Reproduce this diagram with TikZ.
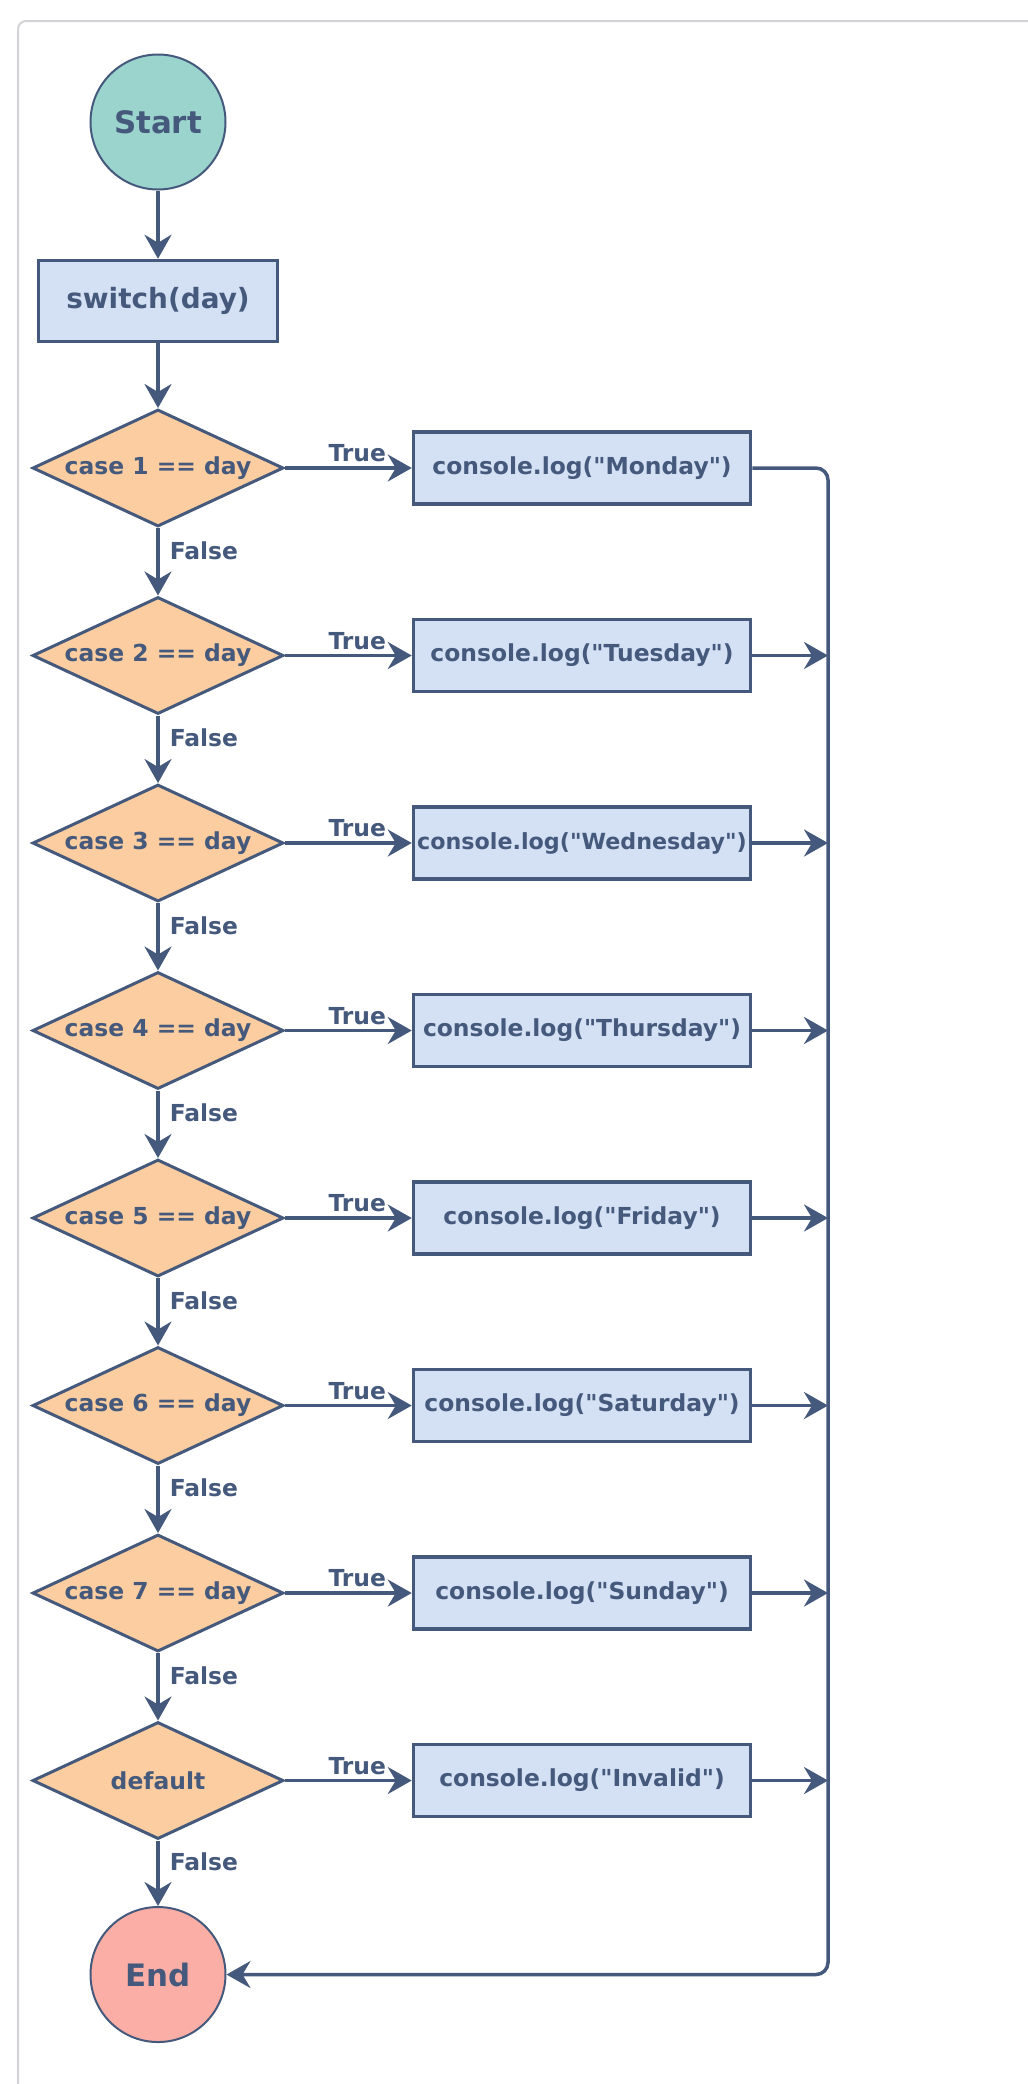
\documentclass[tikz,border=0pt]{standalone}
\usepackage{fontspec}
\setmainfont{DejaVu Sans}[Ligatures=TeXOff]
\usepackage{xcolor}
\usepackage{tikz}
\usetikzlibrary{positioning, shapes.geometric, arrows.meta, calc}

\definecolor{ink}{HTML}{45597C}
\definecolor{startfill}{HTML}{9BD3CD}
\definecolor{endfill}{HTML}{FAAEA6}
\definecolor{casefill}{HTML}{FBCDA0}
\definecolor{boxfill}{HTML}{D4E1F4}
\definecolor{framegray}{HTML}{D3D3D7}

\begin{document}
\begin{tikzpicture}[x=1bp, y=-1bp, node distance=187.5bp,
  every node/.style={text=ink, font=\bfseries\fontsize{23.5}{28}\selectfont},
  terminal/.style={circle, draw=ink, line width=2bp, minimum size=135bp, inner sep=0pt, font=\bfseries\fontsize{31}{37}\selectfont},
  decision/.style={diamond, draw=ink, fill=casefill, line width=3bp, aspect=2.15, minimum width=251bp, minimum height=117bp, inner sep=0pt},
  process/.style={rectangle, draw=ink, fill=boxfill, line width=3.5bp, minimum width=337bp, minimum height=72bp, inner sep=1bp},
  flow/.style={draw=ink, line width=3.5bp, -{Stealth[length=24bp, width=27bp, inset=8bp]}},
  yes/.style={above, pos=0.57, inner sep=4bp},
  no/.style={right, pos=0.33, inner sep=2bp, xshift=8bp}]
  \useasboundingbox (0,0) rectangle (1028,2084);
  \draw[framegray, line width=2bp, rounded corners=8bp] (18,21) rectangle (1090,2150);

  \node[terminal, fill=startfill] (start) at (158,122) {Start};
  \node[process, below of=start, node distance=179bp, minimum width=239bp, minimum height=81bp, font=\bfseries\fontsize{28}{33}\selectfont] (switch) {switch(day)};
  \node[decision, below of=switch, node distance=167bp] (case1) {case 1 == day};
  \node[decision, below of=case1] (case2) {case 2 == day};
  \node[decision, below of=case2] (case3) {case 3 == day};
  \node[decision, below of=case3] (case4) {case 4 == day};
  \node[decision, below of=case4] (case5) {case 5 == day};
  \node[decision, below of=case5] (case6) {case 6 == day};
  \node[decision, below of=case6] (case7) {case 7 == day};
  \node[decision, below of=case7] (dflt) {default};
  \node[terminal, fill=endfill, below of=dflt, node distance=194bp] (stop) {End};

  \node[process, right of=case1, node distance=424bp] (mon) {console.log("Monday")};
  \node[process, right of=case2, node distance=424bp] (tue) {console.log("Tuesday")};
  \node[process, right of=case3, node distance=424bp, inner sep=0pt, font=\bfseries\fontsize{22.3}{27}\selectfont] (wed) {console.log("Wednesday")};
  \node[process, right of=case4, node distance=424bp] (thu) {console.log("Thursday")};
  \node[process, right of=case5, node distance=424bp] (fri) {console.log("Friday")};
  \node[process, right of=case6, node distance=424bp] (sat) {console.log("Saturday")};
  \node[process, right of=case7, node distance=424bp] (sun) {console.log("Sunday")};
  \node[process, right of=dflt, node distance=424bp] (inv) {console.log("Invalid")};

  % main chain
  \draw[flow] (start) -- (switch);
  \draw[flow] (switch) -- (case1);
  \draw[flow] (case1) -- node[no]{False} (case2);
  \draw[flow] (case2) -- node[no]{False} (case3);
  \draw[flow] (case3) -- node[no]{False} (case4);
  \draw[flow] (case4) -- node[no]{False} (case5);
  \draw[flow] (case5) -- node[no]{False} (case6);
  \draw[flow] (case6) -- node[no]{False} (case7);
  \draw[flow] (case7) -- node[no]{False} (dflt);
  \draw[flow] (dflt) -- node[no]{False} (stop);

  % true branches
  \draw[flow] (case1) -- node[yes]{True} (mon);
  \draw[flow] (case2) -- node[yes]{True} (tue);
  \draw[flow] (case3) -- node[yes]{True} (wed);
  \draw[flow] (case4) -- node[yes]{True} (thu);
  \draw[flow] (case5) -- node[yes]{True} (fri);
  \draw[flow] (case6) -- node[yes]{True} (sat);
  \draw[flow] (case7) -- node[yes]{True} (sun);
  \draw[flow] (dflt) -- node[yes]{True} (inv);

  % collector line back to End
  \coordinate (rail) at (828,0);
  \draw[flow, rounded corners=12bp] (mon.east) -| (rail |- stop) -- (stop);
  \draw[flow] (tue) -- (rail |- tue);
  \draw[flow] (wed) -- (rail |- wed);
  \draw[flow] (thu) -- (rail |- thu);
  \draw[flow] (fri) -- (rail |- fri);
  \draw[flow] (sat) -- (rail |- sat);
  \draw[flow] (sun) -- (rail |- sun);
  \draw[flow] (inv) -- (rail |- inv);
\end{tikzpicture}
\end{document}
